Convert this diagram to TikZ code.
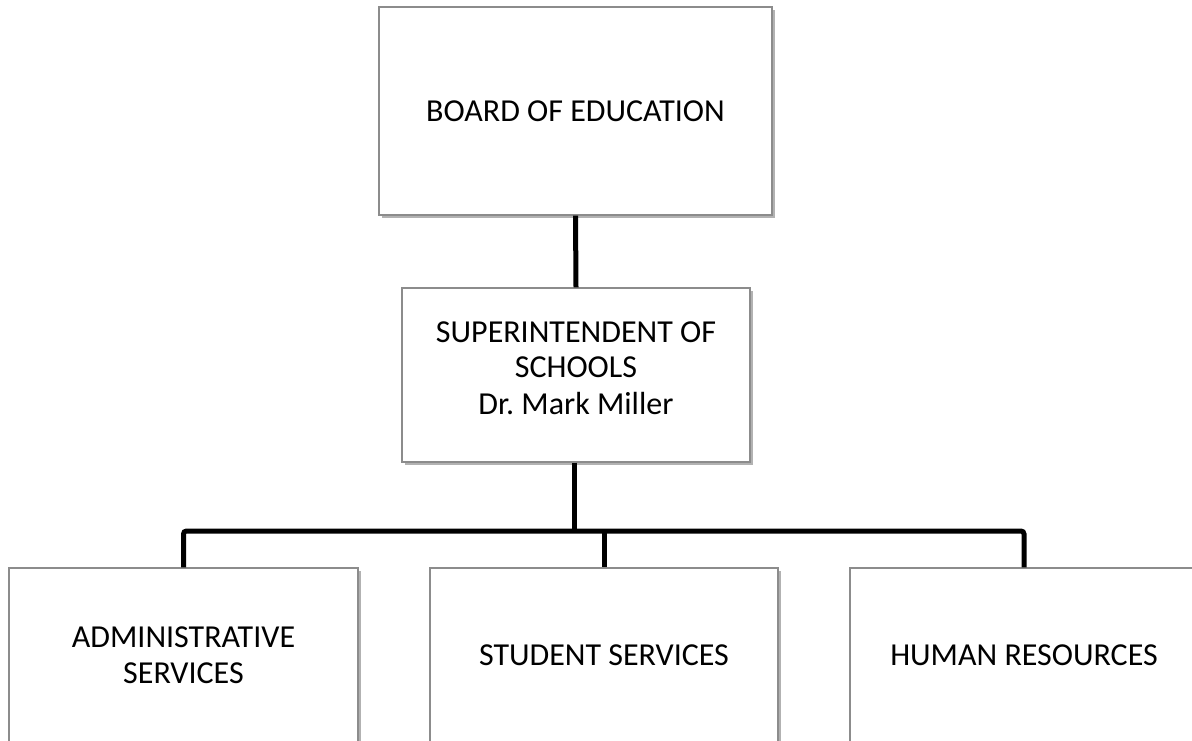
\documentclass[tikz,border=0pt]{standalone}
\usepackage{fontspec}
\setmainfont{Carlito}
\usetikzlibrary{shadows}
\definecolor{boxline}{HTML}{8C8C8C}
\frenchspacing
\begin{document}
\begin{tikzpicture}[x=1pt,y=-1pt,
  orgbox/.style={draw=boxline, line width=1.4pt, fill=white, rectangle,
    inner sep=0pt, align=center,
    font=\fontsize{32}{35.5}\selectfont,
    drop shadow={shadow xshift=2.5pt, shadow yshift=-2.5pt, fill=black, opacity=0.3}},
  boxtext/.style={inner sep=0pt, align=center, font=\fontsize{32}{35.5}\selectfont},
  conn/.style={line width=5pt, draw=black}]
\useasboundingbox[fill=white] (0,0) rectangle (1192,740);
\node[orgbox, minimum width=393pt, minimum height=208pt] (board) at (575.5,111) {BOARD OF EDUCATION};
\node[orgbox, minimum width=348pt, minimum height=174pt] (sup) at (576,375) {};
\node[boxtext, yshift=7pt] (suptext) at (sup.center) {SUPERINTENDENT OF\\SCHOOLS\\[1pt]Dr.\ Mark Miller};
\coordinate (bus) at (574,531);
\draw[conn] (board.south) -- (sup.north);
\draw[conn] (sup.south -| bus) -- (bus);
\node[orgbox, minimum width=349pt, minimum height=174pt] (adm) at (183.5,655) {ADMINISTRATIVE\\SERVICES};
\node[orgbox, minimum width=348pt, minimum height=174pt] (stu) at (604,655) {STUDENT SERVICES};
\node[orgbox, minimum width=348pt, minimum height=174pt] (hr) at (1024,655) {HUMAN RESOURCES};
\draw[conn, rounded corners=3pt] (adm.north) |- (bus) -| (hr.north);
\draw[conn] (stu.north |- bus) -- (stu.north);
\end{tikzpicture}
\end{document}
